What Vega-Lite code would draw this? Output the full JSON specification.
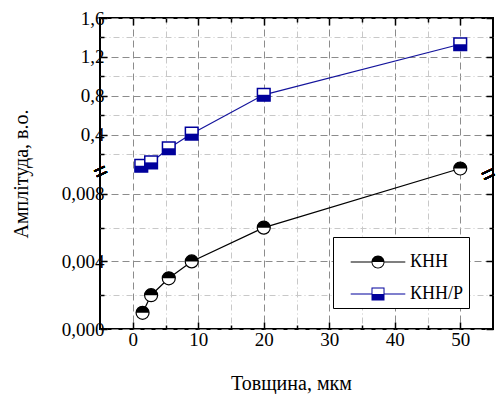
{
  "$schema": "https://vega.github.io/schema/vega-lite/v6.json",
  "width": 393,
  "height": 311,
  "autosize": {"type": "none"},
  "padding": {"left": 100, "top": 18, "right": 3, "bottom": 65},
  "background": "white",
  "config": {
    "view": {"stroke": "black", "strokeWidth": 2},
    "font": "Liberation Serif"
  },
  "data": {
    "values": [
      {"series": "КНН", "x": 1.5, "y": 0.00096},
      {"series": "КНН", "x": 2.8, "y": 0.002},
      {"series": "КНН", "x": 5.5, "y": 0.003},
      {"series": "КНН", "x": 9, "y": 0.004},
      {"series": "КНН", "x": 20, "y": 0.006},
      {"series": "КНН", "x": 50, "y": 0.0095},
      {"series": "КНН/Р", "x": 1.3, "y": 0.08},
      {"series": "КНН/Р", "x": 2.8, "y": 0.115},
      {"series": "КНН/Р", "x": 5.5, "y": 0.26},
      {"series": "КНН/Р", "x": 9, "y": 0.41},
      {"series": "КНН/Р", "x": 20, "y": 0.81},
      {"series": "КНН/Р", "x": 50, "y": 1.33}
    ]
  },
  "layer": [
    {
      "transform": [{"filter": "datum.series === 'КНН'"}],
      "mark": {"type": "line", "color": "black", "strokeWidth": 1.2},
      "encoding": {
        "x": {
          "field": "x", "type": "quantitative",
          "scale": {"domain": [-5, 55], "nice": false, "zero": false},
          "title": "Товщина, мкм",
          "axis": {
            "orient": "bottom",
            "values": [0, 5, 10, 15, 20, 25, 30, 35, 40, 45, 50],
            "labelExpr": "datum.value % 10 === 0 ? datum.label : ''",
            "grid": true,
            "gridColor": {"condition": {"test": "datum.value % 10 === 0", "value": "#8c8c8c"}, "value": "#c8c8c8"},
            "gridDash": {"condition": {"test": "datum.value % 10 === 0", "value": [7, 4]}, "value": [6, 3, 1, 3]},
            "gridWidth": 1,
            "tickSize": {"condition": {"test": "datum.value % 10 === 0", "value": -7}, "value": -4},
            "tickColor": "black",
            "tickWidth": 1.5,
            "domain": false,
            "labelFont": "Liberation Serif",
            "labelFontSize": 19,
            "labelColor": "black",
            "labelPadding": 8,
            "titleFont": "Liberation Serif",
            "titleFontSize": 20,
            "titleFontWeight": "normal",
            "titleColor": "black",
            "titlePadding": 24,
            "titleX": 191
          }
        },
        "y": {
          "field": "y", "type": "quantitative",
          "scale": {"type": "linear", "domain": [0, 0.0095, 0.0096, 1.6], "range": [311, 150.5, 154.6, 0], "nice": false, "zero": false},
          "title": "Амплітуда, в.о.",
          "axis": {
            "orient": "left",
            "values": [0, 0.002, 0.004, 0.006, 0.008, 0.2, 0.4, 0.6, 0.8, 1, 1.2, 1.4, 1.6],
            "labelExpr": "indexof([0, 0.004, 0.008, 0.4, 0.8, 1.2, 1.6], datum.value) < 0 ? '' : replace(format(datum.value, datum.value < 0.01 ? '.3f' : '.1f'), '.', ',')",
            "grid": true,
            "gridColor": {"condition": {"test": "indexof([0, 0.004, 0.008, 0.4, 0.8, 1.2, 1.6], datum.value) >= 0", "value": "#8c8c8c"}, "value": "#c8c8c8"},
            "gridDash": {"condition": {"test": "indexof([0, 0.004, 0.008, 0.4, 0.8, 1.2, 1.6], datum.value) >= 0", "value": [7, 4]}, "value": [6, 3, 1, 3]},
            "gridWidth": 1,
            "tickSize": {"condition": {"test": "indexof([0, 0.004, 0.008, 0.4, 0.8, 1.2, 1.6], datum.value) >= 0", "value": -7}, "value": -4},
            "tickColor": "black",
            "tickWidth": 1.5,
            "domain": false,
            "labelFont": "Liberation Serif",
            "labelFontSize": 19,
            "labelColor": "black",
            "labelPadding": 3,
            "titleFont": "Liberation Serif",
            "titleFontSize": 20,
            "titleFontWeight": "normal",
            "titleColor": "black",
            "titlePadding": 30
          }
        }
      }
    },
    {
      "transform": [{"filter": "datum.series === 'КНН/Р'"}],
      "mark": {"type": "line", "color": "#14149c", "strokeWidth": 1.2},
      "encoding": {
        "x": {
          "field": "x", "type": "quantitative",
          "axis": {
            "orient": "top",
            "values": [0, 5, 10, 15, 20, 25, 30, 35, 40, 45, 50],
            "labels": false,
            "grid": false,
            "title": null,
            "tickSize": {"condition": {"test": "datum.value % 10 === 0", "value": -7}, "value": -4},
            "tickColor": "black",
            "tickWidth": 1.5,
            "domain": false
          }
        },
        "y": {
          "field": "y", "type": "quantitative",
          "axis": {
            "orient": "right",
            "values": [0, 0.002, 0.004, 0.006, 0.008, 0.2, 0.4, 0.6, 0.8, 1, 1.2, 1.4, 1.6],
            "labels": false,
            "grid": false,
            "title": null,
            "tickSize": {"condition": {"test": "indexof([0, 0.004, 0.008, 0.4, 0.8, 1.2, 1.6], datum.value) >= 0", "value": -7}, "value": -4},
            "tickColor": "black",
            "tickWidth": 1.5,
            "domain": false
          }
        }
      }
    },
    {
      "transform": [{"filter": "datum.series === 'КНН'"}],
      "mark": {"type": "point", "shape": "circle", "filled": true, "fill": "white", "stroke": "black", "strokeWidth": 1.2, "size": 169, "opacity": 1},
      "encoding": {
        "x": {"field": "x", "type": "quantitative", "axis": null},
        "y": {"field": "y", "type": "quantitative", "axis": null}
      }
    },
    {
      "transform": [{"filter": "datum.series === 'КНН'"}],
      "mark": {"type": "point", "shape": "M -1 0 A 1 1 0 0 1 1 0 Z", "filled": true, "fill": "black", "strokeWidth": 0, "size": 169, "opacity": 1},
      "encoding": {
        "x": {"field": "x", "type": "quantitative", "axis": null},
        "y": {"field": "y", "type": "quantitative", "axis": null}
      }
    },
    {
      "transform": [{"filter": "datum.series === 'КНН/Р'"}],
      "mark": {"type": "point", "shape": "square", "filled": true, "fill": "white", "stroke": "#00009c", "strokeWidth": 1.5, "size": 160, "opacity": 1},
      "encoding": {
        "x": {"field": "x", "type": "quantitative", "axis": null},
        "y": {"field": "y", "type": "quantitative", "axis": null}
      }
    },
    {
      "transform": [{"filter": "datum.series === 'КНН/Р'"}],
      "mark": {"type": "point", "shape": "M -1 0 L 1 0 L 1 1 L -1 1 Z", "filled": true, "fill": "#00009c", "strokeWidth": 0, "size": 160, "opacity": 1},
      "encoding": {
        "x": {"field": "x", "type": "quantitative", "axis": null},
        "y": {"field": "y", "type": "quantitative", "axis": null}
      }
    },
    {
      "mark": {"type": "point", "filled": true, "opacity": 0, "size": 169},
      "encoding": {
        "x": {"field": "x", "type": "quantitative", "axis": null},
        "y": {"field": "y", "type": "quantitative", "axis": null},
        "color": {
          "field": "series", "type": "nominal",
          "scale": {"domain": ["КНН", "КНН/Р"], "range": ["black", "#00009c"]},
          "legend": {
            "orient": "none", "legendX": 233, "legendY": 219,
            "title": " ", "titleFontSize": 7, "titlePadding": 4,
            "padding": 5, "rowPadding": 14,
            "strokeColor": "black", "fillColor": "white",
            "labelFont": "Liberation Serif", "labelFontSize": 18, "labelColor": "black",
            "symbolOffset": 31, "labelOffset": 23,
            "symbolSize": 169, "symbolStrokeWidth": 0, "symbolOpacity": 1,
            "encode": {"symbols": {"update": {"opacity": {"value": 1}, "fillOpacity": {"value": 1}}}}
          }
        },
        "shape": {
          "field": "series", "type": "nominal",
          "scale": {"domain": ["КНН", "КНН/Р"], "range": [
            "M -4.2 -0.09 L -1 -0.09 L -1 0.09 L -4.2 0.09 Z M 1 -0.09 L 4.2 -0.09 L 4.2 0.09 L 1 0.09 Z M -1 0 A 1 1 0 0 1 1 0 Z M 1 0 A 1 1 0 0 1 -1 0 L -0.85 0 A 0.85 0.85 0 0 0 0.85 0 Z",
            "M -4.2 -0.09 L -1 -0.09 L -1 0.09 L -4.2 0.09 Z M 1 -0.09 L 4.2 -0.09 L 4.2 0.09 L 1 0.09 Z M -1 -1 L 1 -1 L 1 -0.85 L -1 -0.85 Z M -1 -1 L -0.85 -1 L -0.85 1 L -1 1 Z M 0.85 -1 L 1 -1 L 1 1 L 0.85 1 Z M -1 0 L 1 0 L 1 1 L -1 1 Z"
          ]}
        }
      }
    },
    {
      "mark": {"type": "text", "text": "=", "font": "Liberation Sans", "fontSize": 23, "angle": -25, "align": "center", "baseline": "middle", "color": "black", "dx": 1},
      "encoding": {
        "x": {"datum": -5, "type": "quantitative", "axis": null},
        "y": {"datum": 0.0096, "type": "quantitative", "axis": null}
      }
    },
    {
      "mark": {"type": "text", "text": "=", "font": "Liberation Sans", "fontSize": 23, "angle": -25, "align": "center", "baseline": "middle", "color": "black", "dx": -5},
      "encoding": {
        "x": {"datum": 55, "type": "quantitative", "axis": null},
        "y": {"datum": 0.0096, "type": "quantitative", "axis": null}
      }
    }
  ]
}
